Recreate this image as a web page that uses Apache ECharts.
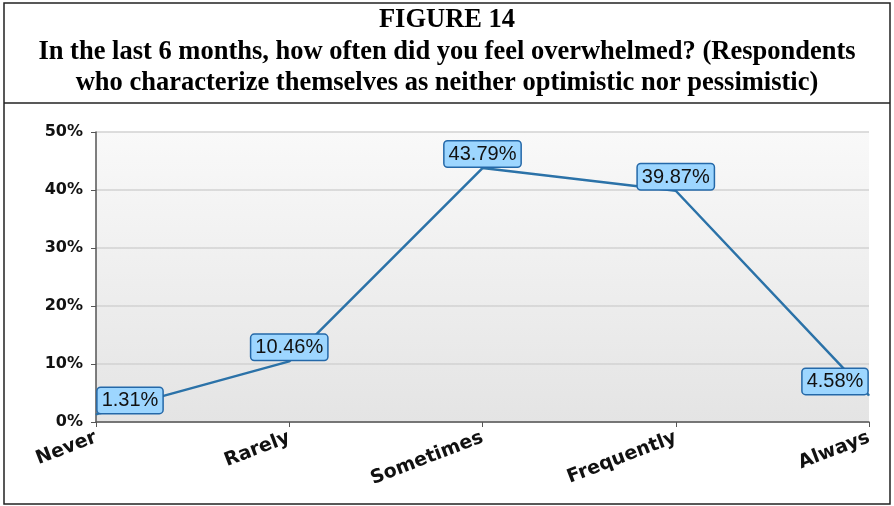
<!DOCTYPE html>
<html><head><meta charset="utf-8">
<script src="https://cdn.jsdelivr.net/npm/echarts@6/dist/echarts.min.js"></script>
<style>html,body{margin:0;padding:0;background:#fff}#c{width:894px;height:506px}</style>
</head><body><div id="c"></div>
<script>
const titleLines = ["FIGURE 14", "In the last 6 months, how often did you feel overwhelmed? (Respondents", "who characterize themselves as neither optimistic nor pessimistic)"];
const categories = ["Never", "Rarely", "Sometimes", "Frequently", "Always"];
const values = [1.31, 10.46, 43.79, 39.87, 4.58];
const yTicks = [0, 10, 20, 30, 40, 50];

const chart = echarts.init(document.getElementById('c'));
const n = values.length;
const data = values.map((v, i) => {
  const d = { value: v };
  if (i === 0) d.label = { offset: [34, 0] };
  if (i === n - 1) d.label = { offset: [-34, 0] };
  return d;
});
chart.setOption({
  animation: false,
  backgroundColor: '#fff',
  graphic: [
    { type: 'rect', shape: { x: 4, y: 3, width: 886, height: 501 }, style: { fill: 'none', stroke: '#222', lineWidth: 1.5 }, z: 10 },
    { type: 'line', shape: { x1: 4, y1: 103, x2: 890, y2: 103 }, style: { stroke: '#222', lineWidth: 1.5 }, z: 10 },
    { type: 'rect', shape: { x: 96, y: 132, width: 773, height: 290 }, z: -10,
      style: { fill: new echarts.graphic.LinearGradient(0, 0, 0, 1, [{ offset: 0, color: '#f9f9f9' }, { offset: 1, color: '#e4e4e4' }]) } },
    ...titleLines.map((t, i) => ({
      type: 'text', x: 447, y: [20.5, 52, 83.5][i],
      style: { text: t, font: 'bold 26.5px "Liberation Serif", "Times New Roman", serif', fill: '#000', align: 'center', verticalAlign: 'middle' }
    }))
  ],
  grid: { left: 96, right: 25, top: 132, bottom: 84, containLabel: false },
  xAxis: {
    type: 'category', data: categories, boundaryGap: false,
    axisLine: { lineStyle: { color: '#555', width: 1.5 } },
    axisTick: { show: true, length: 5, lineStyle: { color: '#555' } },
    axisLabel: { rotate: 21, margin: 15, color: '#111', fontSize: 19, fontWeight: 'bold', fontFamily: '"DejaVu Sans", sans-serif', interval: 0 },
    splitLine: { show: false }
  },
  yAxis: {
    type: 'value', min: yTicks[0], max: yTicks[yTicks.length - 1], interval: 10,
    axisLine: { show: true, lineStyle: { color: '#555', width: 1.5 } },
    axisTick: { show: true, length: 5, lineStyle: { color: '#555' } },
    axisLabel: { formatter: '{value}%', margin: 13, color: '#111', fontSize: 16, fontWeight: 'bold', fontFamily: '"DejaVu Sans", sans-serif' },
    splitLine: { show: true, lineStyle: { color: '#d2d2d2', width: 1.5 } }
  },
  series: [{
    type: 'line', data: data, showSymbol: true, symbol: 'circle', symbolSize: 1,
    itemStyle: { color: '#2b72a8' },
    lineStyle: { color: '#2b72a8', width: 2.5 },
    label: {
      show: true, position: 'top', distance: 1,
      formatter: p => p.value.toFixed(2) + '%',
      fontFamily: '"Liberation Sans", Arial, sans-serif', fontSize: 20, lineHeight: 20, color: '#111',
      backgroundColor: '#9dd6ff', borderColor: '#2468a8', borderWidth: 1.5, borderRadius: 3,
      padding: [3, 4, 2, 4]
    }
  }]
});
</script></body></html>
